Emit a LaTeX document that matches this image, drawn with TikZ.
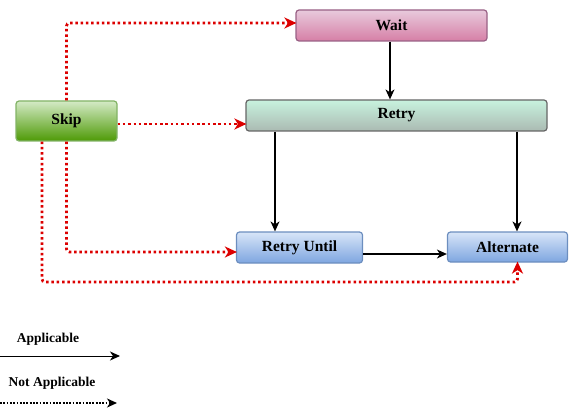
\documentclass[tikz,border=0pt]{standalone}
\usepackage{fontspec}
\setmainfont{Liberation Serif}
\usetikzlibrary{arrows.meta}

\definecolor{waittop}{RGB}{232,202,220}
\definecolor{waitbot}{RGB}{214,127,166}
\definecolor{waitline}{RGB}{153,97,133}
\definecolor{retrytop}{RGB}{200,242,222}
\definecolor{retrybot}{RGB}{170,186,178}
\definecolor{retryline}{RGB}{102,102,102}
\definecolor{skiptop}{RGB}{212,234,198}
\definecolor{skipbot}{RGB}{78,154,6}
\definecolor{skipline}{RGB}{130,179,102}
\definecolor{bluetop}{RGB}{216,229,248}
\definecolor{bluebot}{RGB}{126,166,224}
\definecolor{blueline}{RGB}{108,142,191}
\definecolor{notred}{RGB}{220,0,0}

\begin{document}
\begin{tikzpicture}
[x=1pt,y=-1pt,%
  every node/.style={shape=rectangle,rounded corners=3pt,line width=1.2pt,%
    font=\bfseries\fontsize{15.5}{18}\selectfont,inner sep=0pt},%
  applic/.style={-{Stealth[length=10pt,width=9pt,inset=3pt]},line width=1.4pt},%
  notapplic/.style={-{Stealth[length=12pt,width=11pt,inset=3.5pt,sep=-1pt]},notred,%
    line width=2.8pt,dash pattern=on 2.5pt off 2.8pt,rounded corners=3pt}]
\useasboundingbox (0,0) rectangle (573,409);
% boxes
\node[draw=waitline,top color=waittop,bottom color=waitbot,%
  minimum width=191pt,minimum height=31pt] (wait) at (391.5,25.5) {Wait};
\node[draw=retryline,top color=retrytop,bottom color=retrybot,%
  minimum width=301pt,minimum height=31pt] (retry) at (396.5,115.5) {Retry};
\node[draw=skipline,top color=skiptop,bottom color=skipbot,%
  minimum width=101pt,minimum height=40pt] (skip) at (66.5,121) {Skip};
\node[draw=blueline,top color=bluetop,bottom color=bluebot,%
  minimum width=126pt,minimum height=31pt] (until) at (299.5,247.5) {Retry Until};
\node[draw=blueline,top color=bluetop,bottom color=bluebot,%
  minimum width=120pt,minimum height=30pt] (alt) at (507.5,247) {Alternate};
% applicable
\draw[applic] ([xshift=-1.5pt]wait.south) -- ([xshift=-1.5pt]wait.south |- retry.north);
\draw[applic] ([xshift=-24.5pt]until.north |- retry.south) -- ([xshift=-24.5pt]until.north);
\draw[applic] ([xshift=9.5pt]alt.north |- retry.south) -- ([xshift=9.5pt]alt.north);
\draw[applic] ([yshift=-6.5pt]until.east) -- ([yshift=-6.5pt]until.east -| alt.west);
% not applicable
\draw[notapplic] (skip.north) |- ([yshift=2.5pt]wait.west);
\draw[notapplic] ([yshift=-3pt]skip.east) -- ([yshift=-3pt]skip.east -| retry.west);
\draw[notapplic] (skip.south) |- ([yshift=-4.5pt]until.west);
\coordinate (bend) at (42,282);
\draw[notapplic] ([xshift=-24.5pt]skip.south) -- (bend) -| ([xshift=10pt]alt.south);
% legend
\node[font=\bfseries\fontsize{13.5}{16}\selectfont] (app) at (48,339) {Applicable};
\coordinate (app1) at (0,356);
\coordinate (app2) at (120,356);
\draw[applic,line width=1pt] (app1) -- (app2);
\node[font=\bfseries\fontsize{13.5}{16}\selectfont] (napp) at (52,383) {Not Applicable};
\coordinate (napp1) at (0,403);
\coordinate (napp2) at (117,403);
\draw[-{Stealth[length=10pt,width=9pt,inset=3pt]},line width=1.8pt,%
  dash pattern=on 1.8pt off 1.5pt] (napp1) -- (napp2);
\end{tikzpicture}
\end{document}
